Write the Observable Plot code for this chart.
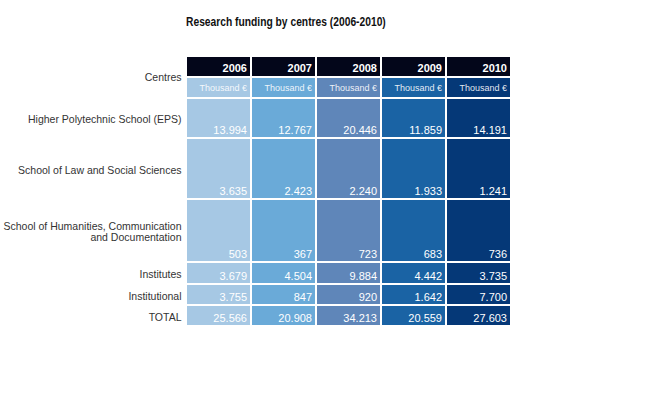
<!DOCTYPE html>
<html>
<head>
<meta charset="utf-8">
<script src="https://cdn.jsdelivr.net/npm/d3@7"></script>
<script src="https://cdn.jsdelivr.net/npm/@observablehq/plot@0.6"></script>
<style>
  html, body { margin: 0; padding: 0; background: #fff; }
  #wrap { position: relative; width: 665px; height: 400px; }
  #title { position: absolute; left: 186px; top: 14px; font-family: "Liberation Sans", Arial, sans-serif; font-weight: bold; font-size: 13px; color: #111; transform: scaleX(0.79); transform-origin: left top; white-space: nowrap; z-index: 2; }
  #chart { position: absolute; left: 0; top: 0; }
</style>
</head>
<body>
<div id="wrap">
  <div id="title">Research funding by centres (2006-2010)</div>
  <div id="chart"></div>
</div>
<script>
// ---- data ----
const years = ["2006", "2007", "2008", "2009", "2010"];
const unitLabel = "Thousand €";
const headerLabel = "Centres";
const centres = [
  "Higher Polytechnic School (EPS)",
  "School of Law and Social Sciences",
  "School of Humanities, Communication\nand Documentation",
  "Institutes",
  "Institutional",
  "TOTAL"
];
const eps = [13994, 12767, 20446, 11859, 14191];
const law = [3635, 2423, 2240, 1933, 1241];
const humanities = [503, 367, 723, 683, 736];
const institutes = [3679, 4504, 9884, 4442, 3735];
const institutional = [3755, 847, 920, 1642, 7700];
const total = [25566, 20908, 34213, 20559, 27603];
const seriesByCentre = [eps, law, humanities, institutes, institutional, total];

// ---- layout (row pitches in px, not data) ----
const rowPitch = [21, 21, 40, 61, 63, 22, 21, 21]; // year, unit, then 6 centres
const gap = 2;
const starts = [];
let acc = 0;
for (const p of rowPitch) { starts.push(acc); acc += p; }
const totalH = acc;
const colors = ["#a6c8e4", "#6aaad8", "#5f86b9", "#1a63a4", "#053877"];

const yearRows = years.map(y => ({year: y, y1: starts[0], y2: starts[0] + rowPitch[0] - gap}));
const unitRows = years.map(y => ({year: y, y1: starts[1], y2: starts[1] + rowPitch[1] - gap}));
const cells = [];
centres.forEach((c, i) => {
  years.forEach((y, j) => {
    cells.push({centre: c, year: y, value: seriesByCentre[i][j], y1: starts[i + 2], y2: starts[i + 2] + rowPitch[i + 2] - gap});
  });
});
const labels = [{label: headerLabel, y: (starts[0] + starts[1] + rowPitch[1] - gap) / 2}]
  .concat(centres.map((c, i) => ({label: c, y: starts[i + 2] + (rowPitch[i + 2] - gap) / 2 + 1})));

const fmt = d3.formatLocale({decimal: ",", thousands: ".", grouping: [3], currency: ["", "€"]}).format(",d");

const plotTop = 57;
const chart = Plot.plot({
  width: 665,
  height: 400,
  marginLeft: 187,
  marginRight: 155,
  marginTop: plotTop,
  marginBottom: 400 - plotTop - totalH,
  style: {fontFamily: "'Liberation Sans', Arial, sans-serif", background: "transparent"},
  x: {type: "band", domain: years, paddingInner: 0.031, paddingOuter: 0, axis: null},
  y: {domain: [0, totalH], range: [plotTop, plotTop + totalH], axis: null},
  color: {type: "ordinal", domain: years, range: colors},
  marks: [
    Plot.barY(yearRows, {x: "year", y1: "y1", y2: "y2", fill: "#03061a"}),
    Plot.barY(unitRows, {x: "year", y1: "y1", y2: "y2", fill: "year"}),
    Plot.barY(cells, {x: "year", y1: "y1", y2: "y2", fill: "year"}),
    Plot.text(yearRows, {x: "year", y: d => (d.y1 + d.y2) / 2, text: "year", fill: "white", fontWeight: "bold", fontSize: 11, textAnchor: "end", dx: 28, dy: 1}),
    Plot.text(unitRows, {x: "year", y: d => (d.y1 + d.y2) / 2, text: () => unitLabel, fill: "white", fillOpacity: 0.9, fontSize: 9, textAnchor: "end", dx: 28}),
    Plot.text(cells, {x: "year", y: "y2", text: d => fmt(d.value), fill: "white", fontSize: 11, textAnchor: "end", lineAnchor: "bottom", dx: 28, dy: -3.5}),
    Plot.text(labels, {frameAnchor: "left", y: "y", text: "label", fill: "#333", fontSize: 10.5, textAnchor: "end", dx: -6, lineHeight: 1.1})
  ]
});
document.getElementById("chart").appendChild(chart);
</script>
</body>
</html>
